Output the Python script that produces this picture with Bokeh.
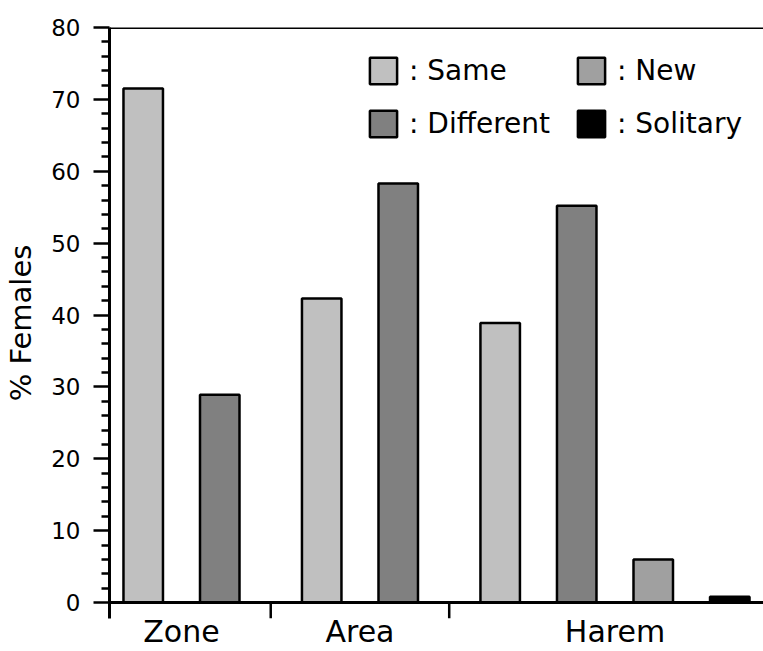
from bokeh.plotting import figure
from bokeh.models import (ColumnDataSource, FactorRange, Legend, LegendItem, Span,
                          FixedTicker)
from bokeh.embed import file_html
from bokeh.resources import INLINE

FONT = "DejaVu Sans"

groups = ["Zone", "Area", "Harem"]
series = ["Same", "Different", "New", "Solitary"]
colors = ["#c0c0c0", "#808080", "#a0a0a0", "#000000"]

same_groups = ["Zone", "Area", "Harem"]
same_values = [71.5, 42.3, 38.9]
different_groups = ["Zone", "Area", "Harem"]
different_values = [28.9, 58.3, 55.2]
new_groups = ["Harem"]
new_values = [6.0]
solitary_groups = ["Harem"]
solitary_values = [0.8]

y_major_ticks = [0, 10, 20, 30, 40, 50, 60, 70, 80]
y_minor_ticks = [v for v in range(2, 80, 2) if v % 10 != 0]

data = {
    "Same": (same_groups, same_values),
    "Different": (different_groups, different_values),
    "New": (new_groups, new_values),
    "Solitary": (solitary_groups, solitary_values),
}

factors = []
for g in groups:
    for s in series:
        if g in data[s][0]:
            factors.append((g, s))

FP, GP, RP = 0.55, 1.065, 0.183
x_range = FactorRange(*factors, factor_padding=FP, group_padding=GP,
                      range_padding=RP, range_padding_units="absolute")

# synthetic positions of the factors (same layout rule as the FactorRange)
centers = []
pos = 0.0
for i, f in enumerate(factors):
    if i > 0:
        pos += GP if factors[i - 1][0] != f[0] else FP
    centers.append(pos + 0.5)
    pos += 1.0
separators = [(centers[i - 1] + centers[i]) / 2 for i in range(1, len(factors))
              if factors[i - 1][0] != factors[i][0]]

STUB = 2.22  # how far the axis frame reaches below 0

p = figure(x_range=x_range, y_range=(-STUB, 80), width=763, height=651,
           output_backend="svg", toolbar_location=None,
           min_border_left=109, min_border_right=0, min_border_top=27,
           min_border_bottom=32)
p.outline_line_color = None
p.xgrid.visible = False
p.ygrid.visible = False
p.background_fill_color = "white"

items = []
for s, c in zip(series, colors):
    gs, vs = data[s]
    src = ColumnDataSource(dict(x=[(g, s) for g in gs], top=vs))
    r = p.vbar(x="x", top="top", bottom=0, width=0.8, source=src, fill_color=c,
               line_color="black", line_width=2.5)
    items.append(LegendItem(label=": " + s, renderers=[r]))

# category axis baseline and the group separator ticks below it
p.add_layout(Span(location=0, dimension="width", line_color="black", line_width=3))
p.segment(x0=separators, x1=separators, y0=[0] * len(separators),
          y1=[-STUB] * len(separators), line_color="black", line_width=2.5)

legend = Legend(items=items, location=(257, 478), nrows=2,
                orientation="vertical", glyph_width=34, glyph_height=33,
                label_standoff=9, label_width=145, spacing=20, padding=0,
                margin=0, border_line_color=None, background_fill_alpha=0,
                label_text_font=FONT, label_text_font_size="28px",
                label_text_color="black")
p.add_layout(legend)

# top border line at the top of the value axis
p.add_layout(Span(location=80, dimension="width", line_color="black", line_width=3))

# y axis
ya = p.yaxis[0]
ya.ticker = FixedTicker(ticks=y_major_ticks, minor_ticks=y_minor_ticks)
ya.axis_label = "% Females"
ya.axis_label_text_font = FONT
ya.axis_label_text_font_size = "29px"
ya.axis_label_text_font_style = "normal"
ya.axis_label_text_color = "black"
ya.axis_label_standoff = 10
ya.major_label_text_font = FONT
ya.major_label_text_font_size = "23px"
ya.major_label_text_color = "black"
ya.major_label_standoff = 13
ya.axis_line_width = 3
ya.axis_line_color = "black"
ya.major_tick_line_width = 2.5
ya.minor_tick_line_width = 2.5
ya.major_tick_line_color = "black"
ya.minor_tick_line_color = "black"
ya.major_tick_out = 16
ya.major_tick_in = 0
ya.minor_tick_out = 8
ya.minor_tick_in = 0

# x axis: only the group names are shown
xa = p.xaxis[0]
xa.axis_line_color = None
xa.major_tick_line_color = None
xa.major_tick_out = 0
xa.major_tick_in = 0
xa.major_label_text_font_size = "0px"
xa.major_label_text_color = None
xa.major_label_standoff = -5
xa.group_text_font = FONT
xa.group_text_font_size = "30px"
xa.group_text_font_style = "normal"
xa.group_text_color = "black"
xa.separator_line_color = None

open("out.html", "w").write(file_html(p, INLINE))
